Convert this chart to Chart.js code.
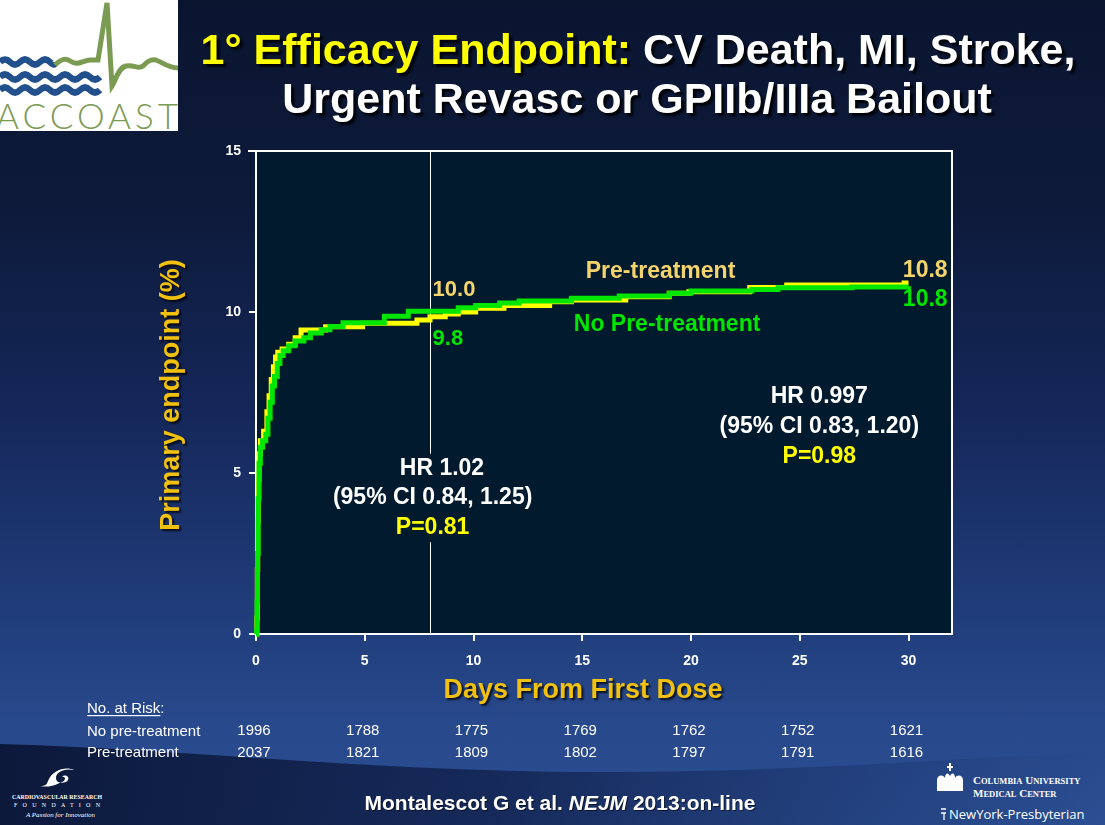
<!DOCTYPE html>
<html><head><meta charset="utf-8">
<script src="https://cdn.jsdelivr.net/npm/chart.js@4.4.1/dist/chart.umd.min.js"></script>
<style>
html,body{margin:0;padding:0;width:1105px;height:825px;overflow:hidden;}
body{position:relative;background:linear-gradient(180deg,#0a1530 0%,#0d1a3a 25%,#15275a 50%,#1f3b78 72%,#28498c 88%,#2b4f93 100%);font-family:"Liberation Sans",Arial,sans-serif;}
#bg{position:absolute;left:0;top:0;}
#c{position:absolute;left:0;top:0;}
</style></head>
<body>
<svg id="bg" width="1105" height="825" xmlns="http://www.w3.org/2000/svg">
  <defs>
    <linearGradient id="dk" x1="0" y1="0" x2="1" y2="0">
      <stop offset="0" stop-color="#0b1738" stop-opacity="0.97"/>
      <stop offset="0.45" stop-color="#0f1e48" stop-opacity="0.75"/>
      <stop offset="0.8" stop-color="#15285a" stop-opacity="0.3"/>
      <stop offset="1" stop-color="#15285a" stop-opacity="0"/>
    </linearGradient>
  </defs>
  <path d="M0,744 C200,750 380,772 600,772 C800,772 950,758 1105,752 L1105,825 L0,825 Z" fill="url(#dk)"/>
  <!-- ACCOAST logo -->
  <rect x="0" y="0" width="178" height="131" fill="#ffffff"/>
  <g fill="none" stroke="#22508c" stroke-width="6.5" stroke-linecap="butt">
    <path d="M0,62 q5,-5 10,0 t10,0 t10,0 t10,0 t10,0 t5,0"/>
    <path d="M0,77 q5,-5 10,0 t10,0 t10,0 t10,0 t10,0 t10,0 t10,0 t10,0 t10,0 t10,0"/>
    <path d="M0,90 q5,-5 10,0 t10,0 t10,0 t10,0 t10,0 t10,0 t10,0 t10,0 t10,0 t10,0"/>
  </g>
  <path d="M55,65 C62,58 66,58 72,62 C78,66 84,60 90,60 L98,60 L107,3 L112,86 C116,80 118,68 126,66 C134,64 138,70 143,66 C147,62 150,59 156,60 C162,62 168,68 178,68" fill="none" stroke="#7b9a52" stroke-width="5" stroke-linejoin="miter"/>
  <text x="-4" y="129" font-family="Lato, 'Open Sans', sans-serif" font-weight="300" font-size="35" fill="#7b9a52" textLength="182" lengthAdjust="spacing">ACCOAST</text>
  <!-- CRF logo -->
  <path d="M48,781 C52,770 66,766 74,770 C64,768 56,772 56,778 C56,784 66,784 68,780 C70,776 64,774 62,777 C66,776 66,781 62,782 C56,784 52,788 40,786 C46,786 47,784 48,781 Z" fill="#ffffff"/>
  <text x="12" y="799" font-family="'Liberation Serif', serif" font-size="6.5" fill="#ffffff" font-weight="bold" textLength="90" lengthAdjust="spacingAndGlyphs">CARDIOVASCULAR RESEARCH</text>
  <text x="14" y="807" font-family="'Liberation Serif', serif" font-size="6" fill="#ffffff" textLength="86" lengthAdjust="spacing">FOUNDATION</text>
  <text x="26" y="817" font-family="'Liberation Serif', serif" font-size="7" font-style="italic" fill="#ffffff" textLength="69" lengthAdjust="spacingAndGlyphs">A Passion for Innovation</text>
  <!-- Columbia / NYP logo -->
  <path d="M937,791 L937,780 C937,775 943,774 945,778 C945,773 948,772 950,776 C952,772 955,773 955,778 C957,774 963,775 963,780 L963,791 Z M949,771 L951,771 L951,768 L953,768 L953,766 L951,766 L951,763 L949,763 L949,766 L947,766 L947,768 L949,768 Z" fill="#ffffff"/>
  <text x="973" y="784" font-family="'Liberation Serif', serif" font-size="11" fill="#ffffff" font-weight="bold">C<tspan font-size="8.5">OLUMBIA</tspan> U<tspan font-size="8.5">NIVERSITY</tspan></text>
  <text x="973" y="797" font-family="'Liberation Serif', serif" font-size="11" fill="#ffffff" font-weight="bold">M<tspan font-size="8.5">EDICAL</tspan> C<tspan font-size="8.5">ENTER</tspan></text>
  <path d="M941,809 L946,809 M941,813 L946,813 M944,813 L944,820" stroke="#ffffff" stroke-width="1.3" fill="none"/>
  <text x="949" y="819" font-family="'Open Sans', 'Liberation Sans', sans-serif" font-size="13" fill="#ffffff">NewYork-Presbyterian</text>
</svg>
<canvas id="c" width="1105" height="825"></canvas>
<script>
// ---- Data ----
const xTickValues = [0, 5, 10, 15, 20, 25, 30];
const yTickValues = [0, 5, 10, 15];

// No pre-treatment (green): day, cumulative event rate (%)
const noPreDays = [0, 0.03, 0.05, 0.07, 0.1, 0.14, 0.2, 0.3, 0.45, 0.55, 0.65, 0.75, 0.85, 0.98, 1.1, 1.25, 1.5, 1.8, 2.2, 2.5, 3.0, 3.4, 4.0, 5.9, 7.0, 9.3, 10.1, 11.2, 12.1, 14.5, 16.7, 19.0, 20.0, 22.8, 24.0, 27.4, 30.0];
const noPreRate = [0, 0.1, 1.0, 2.5, 4.2, 5.3, 5.8, 6.0, 6.2, 6.7, 7.2, 7.7, 8.0, 8.4, 8.65, 8.8, 8.95, 9.1, 9.2, 9.35, 9.45, 9.55, 9.67, 9.87, 10.02, 10.13, 10.2, 10.28, 10.34, 10.43, 10.5, 10.58, 10.65, 10.7, 10.75, 10.78, 10.8];

// Pre-treatment (yellow)
const preDays = [0, 0.04, 0.06, 0.08, 0.1, 0.14, 0.2, 0.35, 0.5, 0.6, 0.7, 0.8, 0.9, 1.0, 1.2, 1.5, 1.8, 2.07, 3.2, 4.9, 7.4, 8.0, 8.7, 9.3, 10.1, 11.4, 13.5, 14.5, 17.0, 19.0, 19.9, 22.7, 24.4, 29.8, 30.0];
const preRate = [0, 0.5, 2.0, 3.5, 4.8, 5.6, 6.0, 6.3, 6.9, 7.4, 7.9, 8.3, 8.6, 8.75, 8.85, 9.0, 9.2, 9.44, 9.54, 9.65, 9.75, 9.85, 9.94, 10.0, 10.12, 10.2, 10.32, 10.37, 10.47, 10.58, 10.63, 10.76, 10.84, 10.9, 10.9];

// Number at risk
const riskDays = [0, 5, 10, 15, 20, 25, 30];
const riskNoPre = [1996, 1788, 1775, 1769, 1762, 1752, 1621];
const riskPre = [2037, 1821, 1809, 1802, 1797, 1791, 1616];

const toPts = (xs, ys) => xs.map((x, i) => ({x: x, y: ys[i]}));

const FONT = '"Liberation Sans", Arial, sans-serif';
const GOLD = '#f2c10d';
const PALE = '#f5d46c';
const GREEN = '#00e600';

function txt(ctx, s, x, y, color, size, weight, align, shadow) {
  ctx.save();
  ctx.font = (weight || 'bold') + ' ' + size + 'px ' + FONT;
  ctx.fillStyle = color;
  ctx.textAlign = align || 'left';
  ctx.textBaseline = 'middle';
  if (shadow) {
    ctx.shadowColor = 'rgba(0,0,0,0.75)';
    ctx.shadowOffsetX = 2; ctx.shadowOffsetY = 2; ctx.shadowBlur = 2;
  }
  ctx.fillText(s, x, y);
  ctx.restore();
}

const plotBg = {
  id: 'plotBg',
  beforeDraw(chart) {
    const {ctx, chartArea: a} = chart;
    ctx.save();
    ctx.fillStyle = '#011a2e';
    ctx.fillRect(a.left, a.top, a.right - a.left, a.bottom - a.top);
    ctx.restore();
  }
};

const overlay = {
  id: 'overlay',
  beforeDatasetsDraw(chart) {
    const {ctx, chartArea: a, scales: {x, y}} = chart;
    // reference line at day 8 (gap behind the HR text)
    const xv = Math.round(x.getPixelForValue(8)) + 0.5;
    ctx.save();
    ctx.strokeStyle = '#ffffff';
    ctx.lineWidth = 1;
    ctx.beginPath();
    ctx.moveTo(xv, a.top); ctx.lineTo(xv, y.getPixelForValue(5.6));
    ctx.moveTo(xv, y.getPixelForValue(2.85)); ctx.lineTo(xv, a.bottom);
    ctx.stroke();
    ctx.restore();
  },
  afterDraw(chart) {
    const {ctx, chartArea: a, scales: {x, y}} = chart;
    // top and right frame
    ctx.save();
    ctx.strokeStyle = '#ffffff';
    ctx.lineWidth = 2;
    ctx.beginPath();
    ctx.moveTo(a.left - 8, a.top); ctx.lineTo(a.right, a.top); ctx.lineTo(a.right, a.bottom);
    ctx.stroke();
    ctx.restore();

    const X = v => x.getPixelForValue(v);
    const Y = v => y.getPixelForValue(v);

    // curve labels
    txt(ctx, '10.0', X(8.12), Y(10.68), PALE, 22, 'bold', 'left');
    txt(ctx, '9.8', X(8.12), Y(9.16), GREEN, 22, 'bold', 'left');
    txt(ctx, 'Pre-treatment', X(18.6), Y(11.25), PALE, 23, 'bold', 'center');
    txt(ctx, 'No Pre-treatment', X(18.9), Y(9.6), GREEN, 23, 'bold', 'center');
    txt(ctx, '10.8', X(29.74), Y(11.27), PALE, 23, 'bold', 'left');
    txt(ctx, '10.8', X(29.74), Y(10.37), GREEN, 23, 'bold', 'left');

    // hazard ratio boxes
    txt(ctx, 'HR 1.02', X(8.55), Y(5.12), '#ffffff', 23, 'bold', 'center');
    txt(ctx, '(95% CI 0.84, 1.25)', X(8.12), Y(4.22), '#ffffff', 23, 'bold', 'center');
    txt(ctx, 'P=0.81', X(8.12), Y(3.29), '#ffff00', 23, 'bold', 'center');
    txt(ctx, 'HR 0.997', X(25.9), Y(7.36), '#ffffff', 23, 'bold', 'center');
    txt(ctx, '(95% CI 0.83, 1.20)', X(25.9), Y(6.43), '#ffffff', 23, 'bold', 'center');
    txt(ctx, 'P=0.98', X(25.9), Y(5.5), '#ffff00', 23, 'bold', 'center');

    // axis titles
    txt(ctx, 'Days From First Dose', 583, 691, GOLD, 27, 'bold', 'center', true);
    ctx.save();
    ctx.translate(172, 395);
    ctx.rotate(-Math.PI / 2);
    txt(ctx, 'Primary endpoint (%)', 0, 0, GOLD, 27, 'bold', 'center', true);
    ctx.restore();

    // main title
    ctx.save();
    ctx.font = 'bold 43px ' + FONT;
    ctx.textBaseline = 'alphabetic';
    ctx.shadowColor = 'rgba(0,0,0,0.85)';
    ctx.shadowOffsetX = 3; ctx.shadowOffsetY = 3; ctx.shadowBlur = 2;
    const p1 = '1\u00B0 Efficacy Endpoint:';
    const p2 = ' CV Death, MI, Stroke,';
    const w1 = ctx.measureText(p1).width, w2 = ctx.measureText(p2).width;
    let sx = 638 - (w1 + w2) / 2;
    ctx.fillStyle = '#ffff00'; ctx.textAlign = 'left';
    ctx.fillText(p1, sx, 64);
    ctx.fillStyle = '#ffffff';
    ctx.fillText(p2, sx + w1, 64);
    ctx.textAlign = 'center';
    ctx.fillText('Urgent Revasc or GPIIb/IIIa Bailout', 637, 113);
    ctx.restore();

    // number at risk table
    ctx.save();
    ctx.font = '15px ' + FONT;
    ctx.fillStyle = '#ffffff';
    ctx.textBaseline = 'alphabetic';
    ctx.textAlign = 'left';
    const head = 'No. at Risk';
    ctx.fillText(head + ':', 87, 713);
    const hw = ctx.measureText(head).width;
    ctx.fillRect(87, 715, hw, 1.2);
    ctx.fillText('No pre-treatment', 87, 736);
    ctx.fillText('Pre-treatment', 87, 757);
    ctx.textAlign = 'center';
    riskDays.forEach((d, i) => {
      ctx.fillText(String(riskNoPre[i]), X(d) - 2, 735);
      ctx.fillText(String(riskPre[i]), X(d) - 2, 757);
    });
    ctx.restore();

    // citation
    ctx.save();
    ctx.textBaseline = 'alphabetic';
    ctx.fillStyle = '#ffffff';
    ctx.shadowColor = 'rgba(0,0,0,0.6)';
    ctx.shadowOffsetX = 1; ctx.shadowOffsetY = 1;
    const c1 = 'Montalescot G et al. ', c2 = 'NEJM', c3 = ' 2013:on-line';
    ctx.font = 'bold 21px ' + FONT; const a1 = ctx.measureText(c1).width, a3 = ctx.measureText(c3).width;
    ctx.font = 'italic bold 21px ' + FONT; const a2 = ctx.measureText(c2).width;
    let cx = 560 - (a1 + a2 + a3) / 2;
    ctx.font = 'bold 21px ' + FONT; ctx.fillText(c1, cx, 810); cx += a1;
    ctx.font = 'italic bold 21px ' + FONT; ctx.fillText(c2, cx, 810); cx += a2;
    ctx.font = 'bold 21px ' + FONT; ctx.fillText(c3, cx, 810);
    ctx.restore();
  }
};

new Chart(document.getElementById('c'), {
  type: 'scatter',
  data: {
    datasets: [
      {label: 'No Pre-treatment', data: toPts(noPreDays, noPreRate), showLine: true, stepped: 'before',
       borderColor: GREEN, borderWidth: 5, pointRadius: 0, fill: false, clip: 4},
      {label: 'Pre-treatment', data: toPts(preDays, preRate), showLine: true, stepped: 'before',
       borderColor: '#ffff00', borderWidth: 5, pointRadius: 0, fill: false, clip: 4}
    ]
  },
  options: {
    responsive: false,
    animation: false,
    events: [],
    layout: {padding: {left: 0, top: 151, right: 153, bottom: 0}},
    plugins: {legend: {display: false}, tooltip: {enabled: false}, title: {display: false}},
    scales: {
      x: {
        type: 'linear', min: 0, max: 32,
        afterBuildTicks: s => { s.ticks = xTickValues.map(v => ({value: v})); },
        afterFit: s => { s.height = 191; },
        ticks: {color: '#ffffff', font: {family: FONT, size: 14, weight: 'bold'}, padding: 12, maxRotation: 0},
        grid: {drawOnChartArea: false, drawTicks: true, tickLength: 7, color: '#ffffff', lineWidth: 2},
        border: {display: true, color: '#ffffff', width: 2}
      },
      y: {
        type: 'linear', min: 0, max: 15,
        afterBuildTicks: s => { s.ticks = yTickValues.map(v => ({value: v})); },
        afterFit: s => { s.width = 256; },
        ticks: {color: '#ffffff', font: {family: FONT, size: 14, weight: 'bold'}, padding: 8},
        grid: {drawOnChartArea: false, drawTicks: true, tickLength: 7, color: '#ffffff', lineWidth: 2},
        border: {display: true, color: '#ffffff', width: 2}
      }
    }
  },
  plugins: [plotBg, overlay]
});
</script>
</body></html>
